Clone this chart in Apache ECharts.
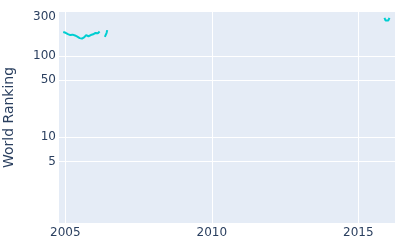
<!DOCTYPE html>
<html>
<head>
<meta charset="utf-8">
<script src="https://cdn.jsdelivr.net/npm/echarts@6/dist/echarts.min.js"></script>
<style>html,body{margin:0;padding:0;background:#fff}#c{width:400px;height:250px}</style>
</head>
<body>
<div id="c"></div>
<script>
var years = [2004.93,2004.95,2004.97,2004.99,2005.01,2005.03,2005.05,2005.07,2005.09,2005.11,2005.13,2005.15,2005.17,2005.19,2005.21,2005.23,2005.25,2005.27,2005.29,2005.31,2005.33,2005.35,2005.37,2005.39,2005.41,2005.43,2005.45,2005.47,2005.49,2005.51,2005.53,2005.55,2005.57,2005.59,2005.61,2005.63,2005.65,2005.67,2005.69,2005.71,2005.73,2005.75,2005.77,2005.79,2005.81,2005.83,2005.85,2005.87,2005.89,2005.91,2005.93,2005.95,2005.97,2005.99,2006.01,2006.03,2006.05,2006.07,2006.09,2006.11,2006.13,2006.15,2006.17,2006.19,
  2006.28,
  2006.35,2006.37,2006.39,2006.41,2006.43,
  2011.0,
  2015.89,2015.91,2015.93,2015.96,2015.99,2016.02,2016.04,2016.06];
var ranks = [196,191,194,189,192,187,190,191,185,188,184,186,180,183,181,178,182,176,179,175,178,173,175,170,172,166,168,163,165,161,162,158,163,160,166,164,170,175,172,180,184,178,181,174,170,176,173,180,185,182,188,184,181,189,186,191,194,187,192,189,197,194,199,201,
  null,
  171,165,178,192,207,
  null,
  293,280,271,269,270,271,280,293];
var xTicks = [2005, 2010, 2015];
var yTicks = [5, 10, 50, 100, 300];
var yGridTicks = [5, 10, 50, 100];

var data = years.map(function (y, i) { return [y, ranks[i] === null ? '-' : ranks[i]]; });
var font = 'DejaVu Sans';
var chart = echarts.init(document.getElementById('c'), null, {renderer: 'canvas'});
chart.setOption({
  backgroundColor: '#fff',
  animation: false,
  grid: {left: 59, right: 5, top: 12, bottom: 27, show: true, backgroundColor: '#E5ECF6', borderWidth: 0, containLabel: false, outerBoundsMode: 'none'},
  xAxis: {
    type: 'value', min: 2004.785, max: 2016.25,
    axisLine: {show: false},
    axisTick: {show: false, customValues: xTicks},
    axisLabel: {customValues: xTicks, color: '#2a3f5f', fontFamily: font, fontSize: 12, margin: 4,
      formatter: function (v) { return String(Math.round(v)); }},
    splitLine: {show: true, lineStyle: {color: '#fff', width: 1}}
  },
  yAxis: {
    type: 'log', logBase: 10, min: 0.875, max: 346,
    name: 'World Ranking', nameLocation: 'middle', nameGap: 43,
    nameTextStyle: {color: '#2a3f5f', fontFamily: font, fontSize: 14},
    axisLine: {show: false},
    axisTick: {show: false, customValues: yGridTicks},
    axisLabel: {customValues: yTicks, color: '#2a3f5f', fontFamily: font, fontSize: 12, margin: 3,
      formatter: function (v) { return String(Math.round(v)); }},
    splitLine: {show: true, lineStyle: {color: '#fff', width: 1}}
  },
  series: [{
    type: 'line', data: data, showSymbol: false, connectNulls: false,
    lineStyle: {color: '#00CED1', width: 2}, itemStyle: {color: '#00CED1'}
  }]
});
</script>
</body>
</html>
